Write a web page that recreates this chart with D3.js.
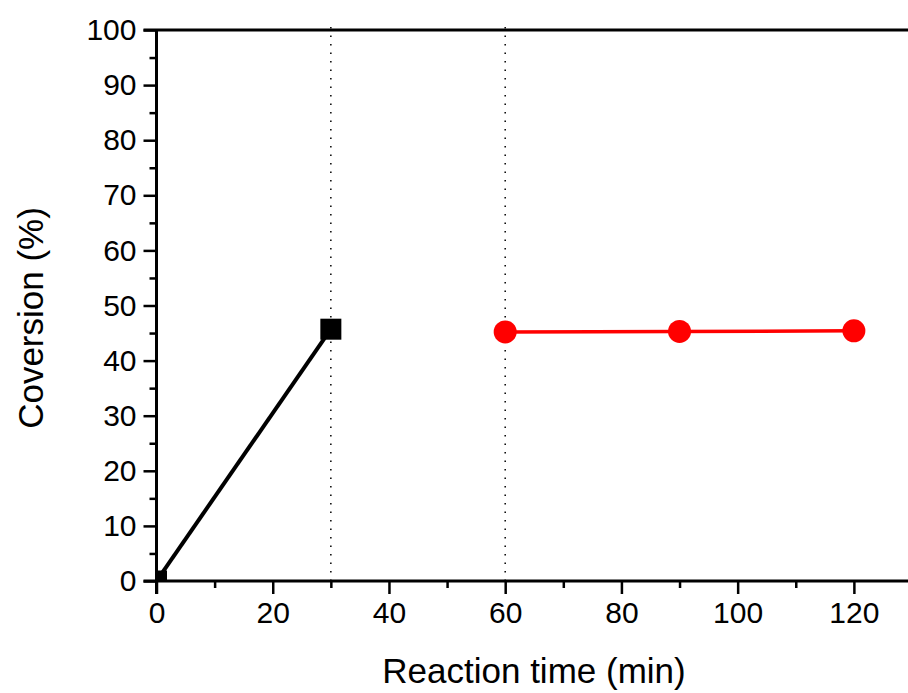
<!DOCTYPE html>
<html>
<head>
<meta charset="utf-8">
<script src="https://cdn.jsdelivr.net/npm/d3@7"></script>
<style>
  body { margin: 0; background: #fff; }
  svg { display: block; font-family: "Liberation Sans", Arial, sans-serif; }
</style>
</head>
<body>
<svg width="908" height="693"></svg>
<script>
var width = 908, height = 693

// data
var blackTime = [0, 30]
var blackConv = [0, 45.7]
var redTime = [60, 90, 120]
var redConv = [45.2, 45.3, 45.4]
var markLines = [30, 60]

var xTicks = [0, 20, 40, 60, 80, 100, 120]
var xMinor = [10, 30, 50, 70, 90, 110, 130]
var yTicks = [0, 10, 20, 30, 40, 50, 60, 70, 80, 90, 100]
var yMinor = [5, 15, 25, 35, 45, 55, 65, 75, 85, 95]

var svg = d3.select("svg")

var x = d3.scaleLinear().domain([0, 130]).range([156.5, 912])
var y = d3.scaleLinear().domain([0, 100]).range([581, 30])

// clip for data
svg.append("clipPath").attr("id", "plotclip")
  .append("rect")
  .attr("x", x(0)).attr("y", y(100))
  .attr("width", x(130) - x(0)).attr("height", y(0) - y(100))

// dotted guides
svg.selectAll(".guide")
  .data(markLines)
  .enter().append("line")
    .attr("class", "guide")
    .attr("x1", function(d) { return x(d) })
    .attr("x2", function(d) { return x(d) })
    .attr("y1", y(100) - 3)
    .attr("y2", y(0))
    .attr("stroke", "#000")
    .attr("stroke-width", 1.5)
    .attr("stroke-dasharray", "1.5,7")

// ticks
var gx = svg.append("g")
gx.append("g")
  .attr("transform", "translate(0," + y(0) + ")")
  .call(d3.axisBottom(x).tickValues(xMinor).tickSize(7).tickFormat(""))
gx.append("g")
  .attr("transform", "translate(0," + y(0) + ")")
  .call(d3.axisBottom(x).tickValues(xTicks).tickSize(13).tickPadding(8))
gx.append("g")
  .attr("transform", "translate(" + x(0) + ",0)")
  .call(d3.axisLeft(y).tickValues(yMinor).tickSize(7).tickFormat(""))
gx.append("g")
  .attr("transform", "translate(" + x(0) + ",0)")
  .call(d3.axisLeft(y).tickValues(yTicks).tickSize(13).tickPadding(7))

gx.selectAll(".domain").remove()
gx.selectAll(".tick line").attr("stroke", "#000").attr("stroke-width", 2.5)
gx.selectAll(".tick text")
  .attr("fill", "#000")
  .style("font-size", "30px")
  .style("font-family", "'Liberation Sans', Arial, sans-serif")

// axis lines
svg.append("line")
  .attr("x1", x(0) - 13).attr("x2", width)
  .attr("y1", y(0)).attr("y2", y(0))
  .attr("stroke", "#000").attr("stroke-width", 3)
svg.append("line")
  .attr("x1", x(0)).attr("x2", x(0))
  .attr("y1", y(100)).attr("y2", y(0) + 13)
  .attr("stroke", "#000").attr("stroke-width", 3)
svg.append("line")
  .attr("x1", x(0) - 13).attr("x2", width)
  .attr("y1", y(100)).attr("y2", y(100))
  .attr("stroke", "#000").attr("stroke-width", 3)

// data
var plot = svg.append("g").attr("clip-path", "url(#plotclip)")
var line = d3.line()
  .x(function(d) { return x(d[0]) })
  .y(function(d) { return y(d[1]) })

var black = blackTime.map(function(t, i) { return [t, blackConv[i]] })
var red = redTime.map(function(t, i) { return [t, redConv[i]] })

plot.append("path").datum(black)
  .attr("d", line).attr("fill", "none")
  .attr("stroke", "#000").attr("stroke-width", 4)
plot.selectAll(".sq").data(black)
  .enter().append("rect")
    .attr("class", "sq")
    .attr("x", function(d) { return x(d[0]) - 10.5 })
    .attr("y", function(d) { return y(d[1]) - 10.5 })
    .attr("width", 21).attr("height", 21)
    .attr("fill", "#000")

plot.append("path").datum(red)
  .attr("d", line).attr("fill", "none")
  .attr("stroke", "#ff0000").attr("stroke-width", 3.5)
plot.selectAll(".dot").data(red)
  .enter().append("circle")
    .attr("class", "dot")
    .attr("cx", function(d) { return x(d[0]) })
    .attr("cy", function(d) { return y(d[1]) })
    .attr("r", 11.5)
    .attr("fill", "#ff0000")

// titles
svg.append("text")
  .attr("x", 534).attr("y", 683)
  .attr("text-anchor", "middle")
  .style("font-size", "35px")
  .text("Reaction time (min)")

svg.append("text")
  .attr("transform", "translate(43,318) rotate(-90)")
  .attr("text-anchor", "middle")
  .style("font-size", "35px")
  .text("Coversion (%)")
</script>
</body>
</html>
